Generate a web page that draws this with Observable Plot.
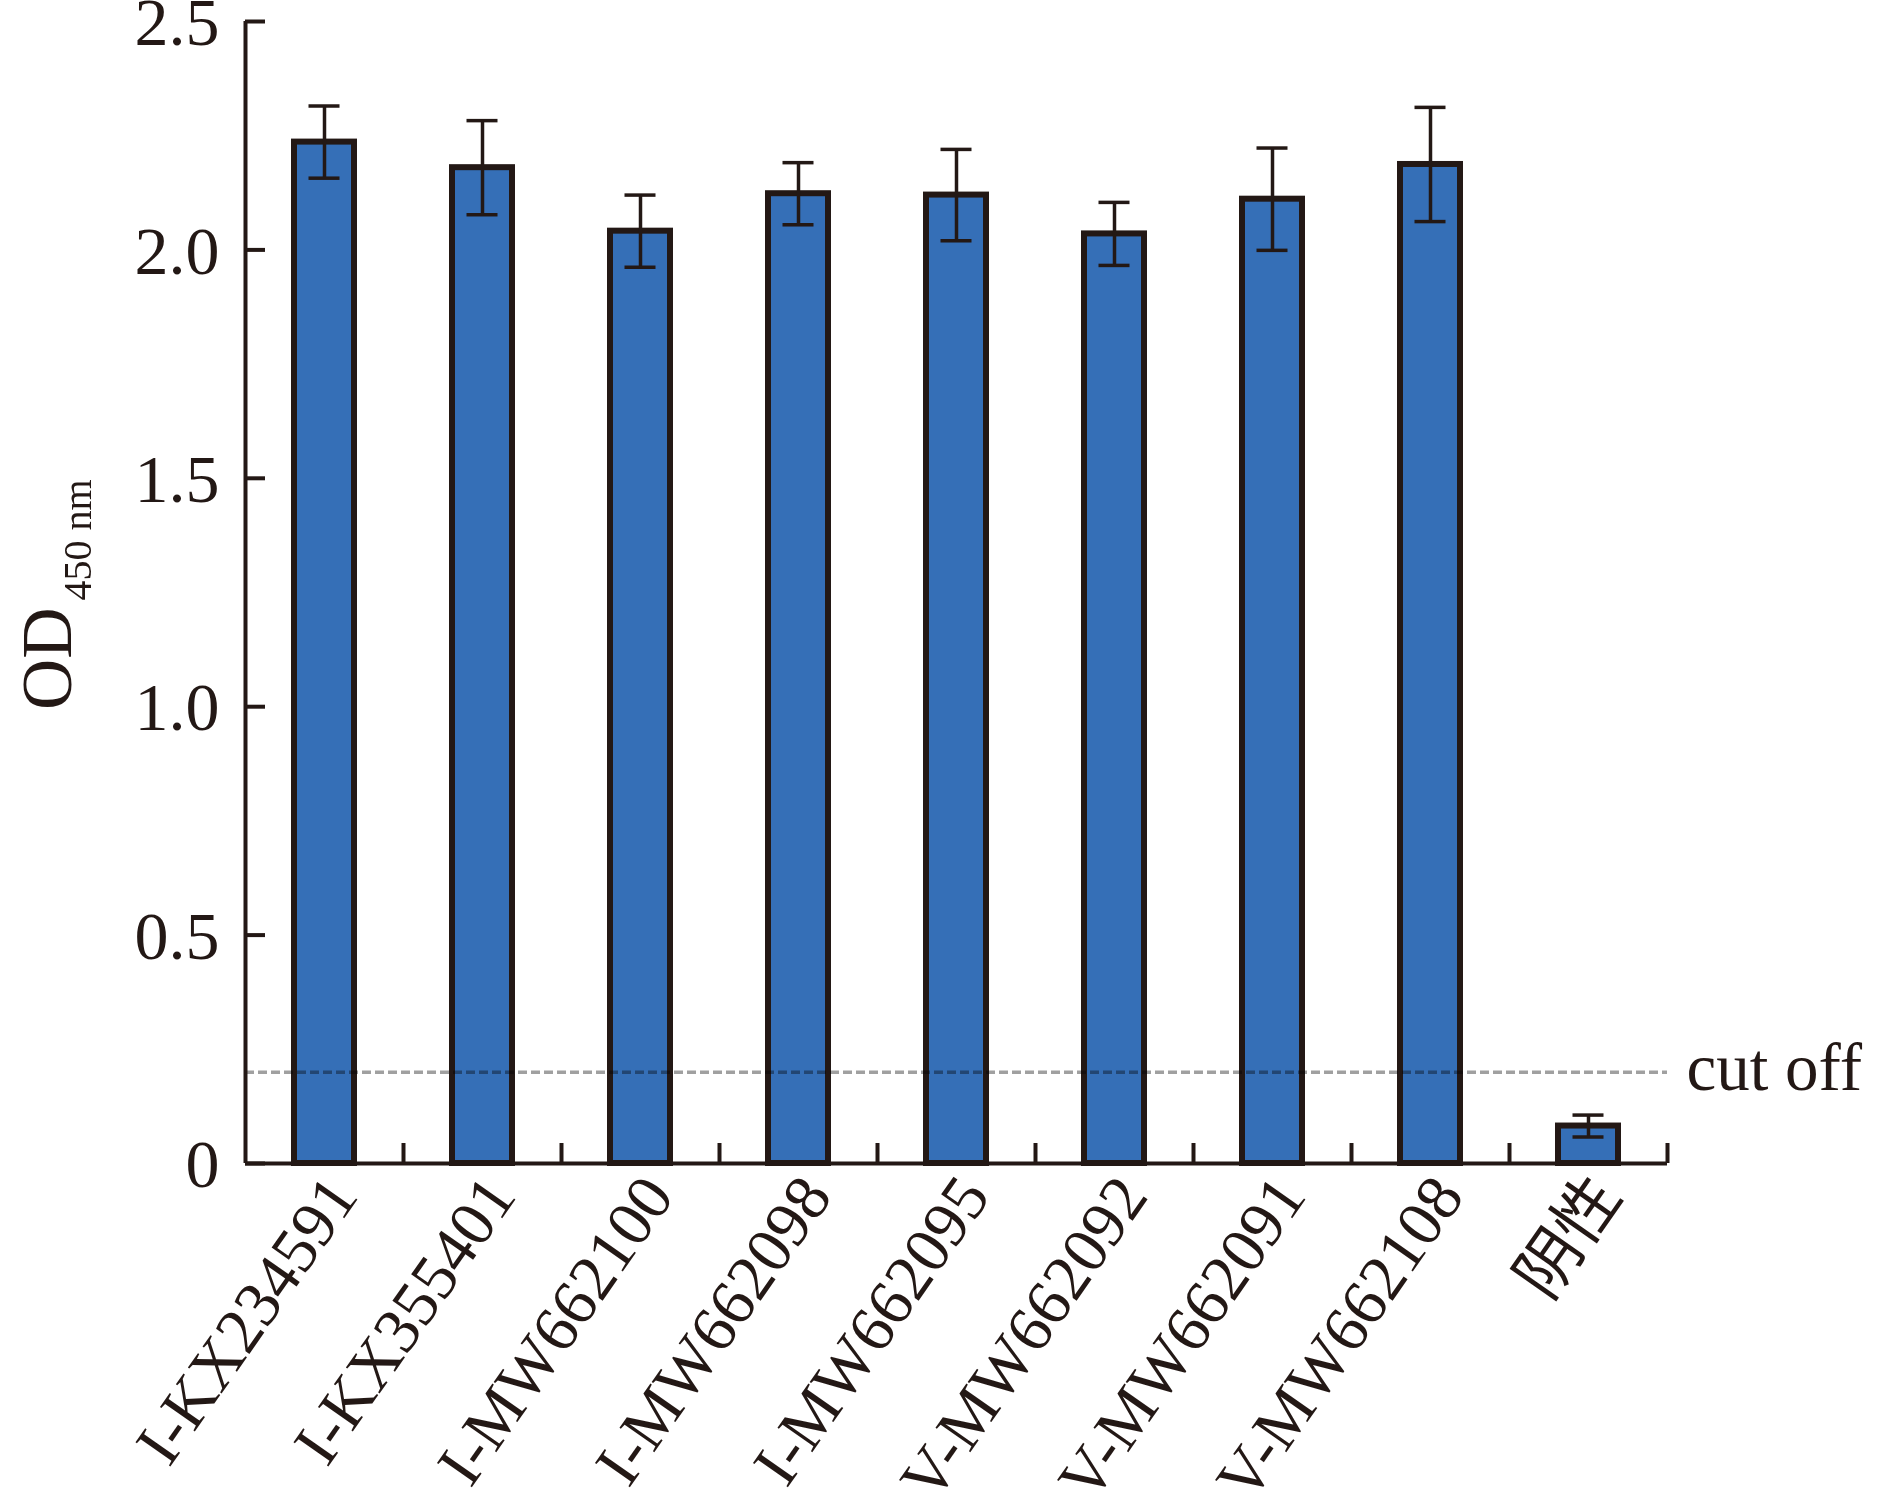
<!DOCTYPE html>
<html>
<head>
<meta charset="utf-8">
<script src="https://cdn.jsdelivr.net/npm/d3@7"></script>
<script src="https://cdn.jsdelivr.net/npm/@observablehq/plot@0.6"></script>
<style>
  html, body { margin: 0; padding: 0; background: #fff; }
</style>
</head>
<body>
<div id="chart"></div>
<script>
// ---- data ----
const categories = ["I-KX234591", "I-KX355401", "I-MW662100", "I-MW662098", "I-MW662095", "V-MW662092", "V-MW662091", "V-MW662108", "阴性"];
const means = [2.236, 2.180, 2.041, 2.123, 2.120, 2.035, 2.111, 2.187, 0.082];
const sds   = [0.079, 0.103, 0.079, 0.068, 0.100, 0.069, 0.112, 0.125, 0.024];
const yTicks = [0, 0.5, 1.0, 1.5, 2.0, 2.5];
const cutoff = 0.2;
const cutoffLabel = "cut off";
const yLabelMain = "OD";
const yLabelSub = "450 nm";

// ---- layout ----
const W = 1890, H = 1508;
const mL = 245, mR = 223, mT = 21, mB = 345;
const frameW = W - mL - mR;
const frameH = H - mT - mB;
const step = frameW / categories.length;
const yMax = 2.5;
const tickLen = 20;
const tickLenUnits = tickLen * yMax / frameH;

const ink = "#231815";
const barFill = "#356fb7";

const data = categories.map((c, i) => ({cat: c, v: means[i], sd: sds[i]}));

const chart = Plot.plot({
  width: W,
  height: H,
  marginLeft: mL,
  marginRight: mR,
  marginTop: mT,
  marginBottom: mB,
  style: {
    fontFamily: "'Liberation Serif', 'Times New Roman', 'Noto Sans CJK SC', serif",
    background: "#fff",
    color: ink,
    overflow: "visible"
  },
  x: {type: "band", domain: categories, paddingInner: 0.62, paddingOuter: 0.31, axis: null},
  y: {domain: [0, yMax], axis: null},
  marks: [
    // bars
    Plot.barY(data, {x: "cat", y: "v", fill: barFill, stroke: ink, strokeWidth: 6}),
    // error bars
    Plot.ruleX(data, {x: "cat", y1: d => d.v - d.sd, y2: d => d.v + d.sd, stroke: ink, strokeWidth: 3.5}),
    Plot.tickY(data, {x: "cat", y: d => d.v + d.sd, stroke: ink, strokeWidth: 3.5, insetLeft: 14.5, insetRight: 14.5}),
    Plot.tickY(data, {x: "cat", y: d => d.v - d.sd, stroke: ink, strokeWidth: 3.5, insetLeft: 14.5, insetRight: 14.5}),
    // cut-off line
    Plot.ruleY([cutoff], {stroke: "#a0a0a0", strokeWidth: 3.5, strokeDasharray: "9,4", mixBlendMode: "multiply"}),
    Plot.text([cutoffLabel], {y: () => cutoff, text: d => d, frameAnchor: "right", textAnchor: "start", lineAnchor: "middle", dx: 19, dy: -4, fontSize: 67, fill: ink}),
    // axes lines
    Plot.ruleY([0], {stroke: ink, strokeWidth: 4}),
    Plot.ruleX([categories[0]], {x: d => d, y1: 0, y2: yMax, dx: -step / 2, stroke: ink, strokeWidth: 4}),
    // y ticks (inward)
    Plot.ruleY(yTicks, {y: d => d, insetRight: frameW - tickLen, stroke: ink, strokeWidth: 4}),
    // x ticks at band boundaries (inward)
    Plot.ruleX(categories, {x: d => d, y1: 0, y2: tickLenUnits, dx: step / 2, stroke: ink, strokeWidth: 4}),
    // y tick labels
    Plot.axisY({ticks: yTicks, label: null, tickSize: 0, tickPadding: 26, fontSize: 68, dy: 2, tickFormat: d => d === 0 ? "0" : d.toFixed(1), fill: ink}),
    // x labels (rotated)
    Plot.text(categories, {x: d => d, text: d => d, frameAnchor: "bottom", rotate: -55, textAnchor: "end", lineAnchor: "middle", dx: 18, dy: 21, fontSize: 65, fill: ink}),
    // y axis title: OD with subscript
    Plot.text([yLabelMain], {text: d => d, frameAnchor: "left", rotate: -90, textAnchor: "end", lineAnchor: "bottom", dx: -175, dy: 15, fontSize: 71, fill: ink}),
    Plot.text([yLabelSub], {text: d => d, frameAnchor: "left", rotate: -90, textAnchor: "start", lineAnchor: "bottom", dx: -155, dy: 8, fontSize: 40, fill: ink})
  ]
});

document.getElementById("chart").appendChild(chart);
</script>
</body>
</html>
